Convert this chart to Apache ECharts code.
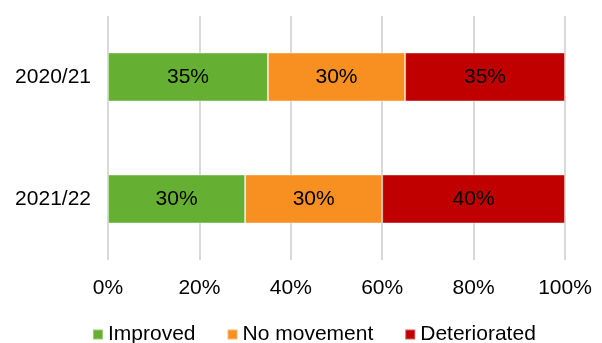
<!DOCTYPE html>
<html>
<head>
<meta charset="utf-8">
<script src="https://cdn.jsdelivr.net/npm/echarts@6/dist/echarts.min.js"></script>
<style>
	html, body { margin: 0; padding: 0; background: #fff; }
	#chart { width: 602px; height: 343px; }
</style>
</head>
<body>
<div id="chart"></div>
<script>
	var years = ['2020/21', '2021/22'];
	var improved = [35, 30];
	var noMovement = [30, 30];
	var deteriorated = [35, 40];
	var seriesNames = ['Improved', 'No movement', 'Deteriorated'];
	var colors = ['#65b032', '#f79021', '#c00000'];

	var chart = echarts.init(document.getElementById('chart'));
	var font = 'Liberation Sans, Arial, sans-serif';

	function bar(name, values, color) {
		return {
			name: name,
			type: 'bar',
			stack: 'total',
			barWidth: '40%',
			data: values,
			itemStyle: { color: color, borderColor: 'rgba(255,255,255,0.35)', borderWidth: 1 },
			label: {
				show: true,
				position: 'inside',
				formatter: '{c}%',
				color: '#000',
				fontSize: 21,
				fontFamily: font
			}
		};
	}

	var option = {
		animation: false,
		color: colors,
		grid: { left: 108, right: 37, top: 16, bottom: 83, containLabel: false },
		xAxis: {
			type: 'value',
			min: 0,
			max: 100,
			interval: 20,
			axisLine: { show: false },
			axisTick: { show: false },
			axisLabel: { formatter: '{value}%', color: '#000', fontSize: 21, fontFamily: font, margin: 18 },
			splitLine: { lineStyle: { color: '#d9d9d9', width: 2 } }
		},
		yAxis: {
			type: 'category',
			inverse: true,
			data: years,
			axisLine: { show: false },
			axisTick: { show: false },
			axisLabel: { color: '#000', fontSize: 21, fontFamily: font, margin: 17 }
		},
		legend: {
			data: seriesNames,
			top: 319,
			left: 87,
			itemWidth: 10,
			itemHeight: 10,
			itemGap: 31,
			icon: 'rect',
			textStyle: { color: '#000', fontSize: 21, fontFamily: font, padding: [0, 0, 0, 0] }
		},
		series: [
			bar(seriesNames[0], improved, colors[0]),
			bar(seriesNames[1], noMovement, colors[1]),
			bar(seriesNames[2], deteriorated, colors[2])
		]
	};
	chart.setOption(option);
</script>
</body>
</html>
